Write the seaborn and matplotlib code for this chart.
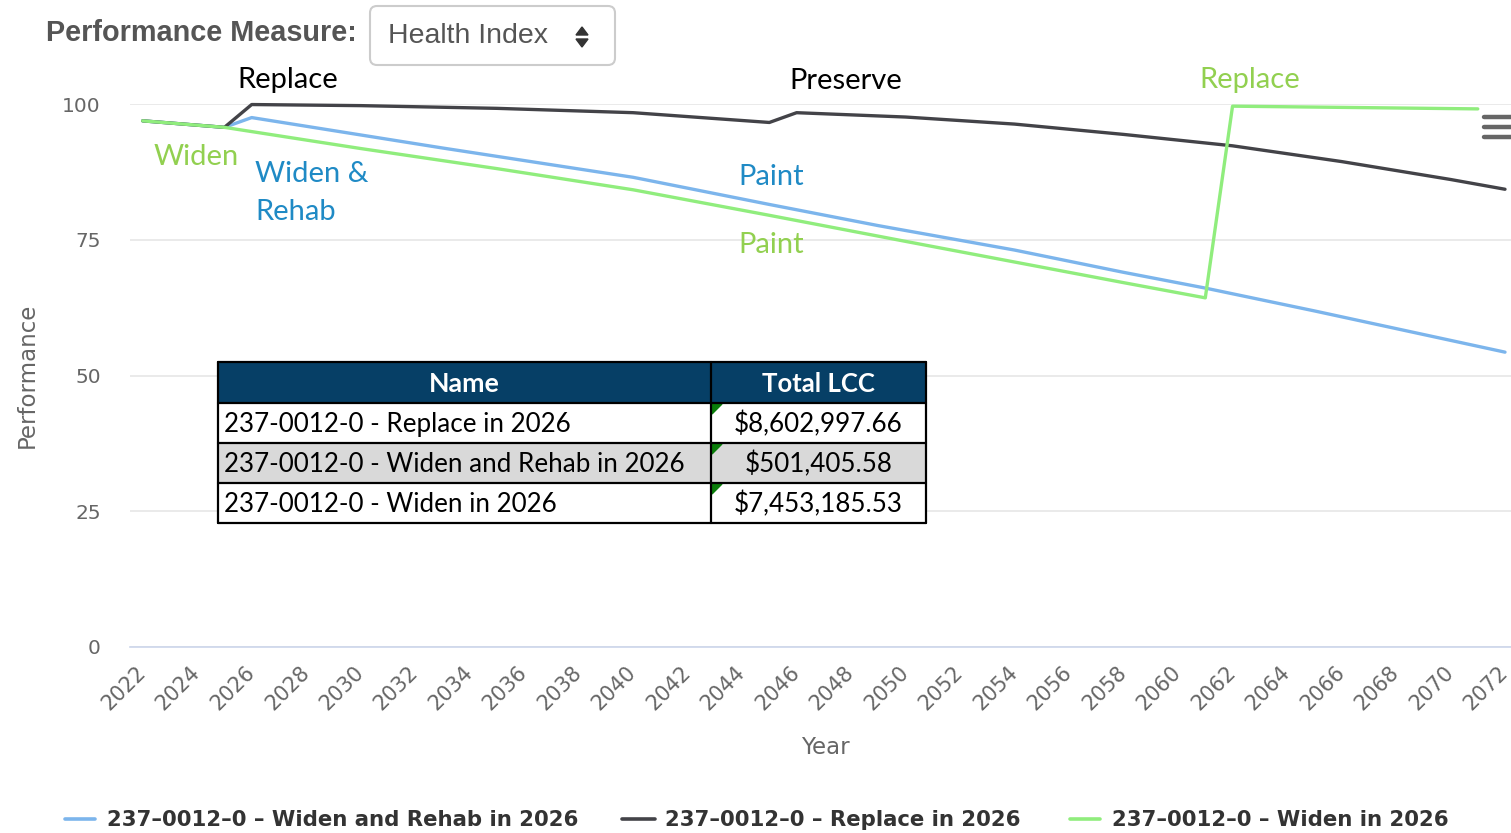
import matplotlib
matplotlib.use("Agg")
import matplotlib.pyplot as plt
import seaborn as sns
import pandas as pd
from matplotlib.patches import Rectangle, FancyBboxPatch, Polygon
from matplotlib.lines import Line2D

# ---------------- data ----------------
series_names = [
    "237-0012-0 - Widen and Rehab in 2026",
    "237-0012-0 - Replace in 2026",
    "237-0012-0 - Widen in 2026",
]
legend_labels = [
    "237–0012–0 – Widen and Rehab in 2026",
    "237–0012–0 – Replace in 2026",
    "237–0012–0 – Widen in 2026",
]
series_colors = ["#7cb5ec", "#434348", "#90ed7d"]

years_rehab = [2022, 2025, 2026, 2033, 2040, 2045, 2049, 2054, 2058, 2061, 2065, 2072]
vals_rehab = [96.9, 95.7, 97.5, 91.9, 86.5, 81.5, 77.6, 73.1, 69.0, 66.1, 61.9, 54.3]

years_replace = [2022, 2025, 2026, 2030, 2035, 2040, 2045, 2046, 2050, 2054, 2058, 2062, 2066, 2070, 2072]
vals_replace = [96.9, 95.7, 99.9, 99.7, 99.2, 98.4, 96.6, 98.4, 97.6, 96.3, 94.4, 92.3, 89.4, 86.1, 84.3]

years_widen = [2022, 2025, 2030, 2035, 2040, 2045, 2050, 2054, 2058, 2061, 2062, 2071]
vals_widen = [96.9, 95.7, 91.8, 88.1, 84.2, 79.5, 74.7, 70.9, 67.1, 64.3, 99.6, 99.1]

x_ticks = list(range(2022, 2073, 2))
y_ticks = [0, 25, 50, 75, 100]

table_header = ["Name", "Total LCC"]
table_names = [
    "237-0012-0 - Replace in 2026",
    "237-0012-0 - Widen and Rehab in 2026",
    "237-0012-0 - Widen in 2026",
]
table_lcc = ["$8,602,997.66", "$501,405.58", "$7,453,185.53"]

# ---------------- figure ----------------
sns.set_style("white")
plt.rcParams["font.family"] = ["DejaVu Sans"]

W, H = 1511, 833
fig = plt.figure(figsize=(W / 100, H / 100), dpi=100)

# plot area in pixels
px_left, px_right, px_top, px_bottom = 130, 1511, 104, 647
ax = fig.add_axes([px_left / W, 1 - px_bottom / H, (px_right - px_left) / W, (px_bottom - px_top) / H])

frames = []
for name, yrs, vals in zip(series_names,
                           [years_rehab, years_replace, years_widen],
                           [vals_rehab, vals_replace, vals_widen]):
    frames.append(pd.DataFrame({"Year": yrs, "Performance": vals, "Series": name}))
df = pd.concat(frames, ignore_index=True)

sns.lineplot(data=df, x="Year", y="Performance", hue="Series", hue_order=series_names,
             palette=series_colors, estimator=None, sort=False, linewidth=2.4,
             legend=False, ax=ax)
for ln in ax.lines:
    ln.set_clip_on(False)

# x range: 2022 at px 142.7, 2072 at px 1505
ppy = (1505 - 142.7) / 50.0
ax.set_xlim(2022 - (142.7 - px_left) / ppy, 2072 + (px_right - 1505) / ppy)
ax.set_ylim(0, 100)

ax.set_xticks(x_ticks)
ax.set_yticks(y_ticks)
ax.yaxis.grid(True, color="#e6e6e6", linewidth=1.2)
ax.xaxis.grid(False)
ax.set_axisbelow(True)
for s in ["top", "right", "left"]:
    ax.spines[s].set_visible(False)
ax.spines["bottom"].set_color("#ccd6eb")
ax.spines["bottom"].set_linewidth(1.2)
ax.tick_params(axis="y", length=0, pad=21, labelsize=14.5, labelcolor="#666666")
ax.tick_params(axis="x", length=0, pad=16, labelsize=15, labelcolor="#666666")
for lab in ax.get_xticklabels():
    lab.set_rotation(45)
    lab.set_ha("right")
    lab.set_va("center")
    lab.set_rotation_mode("anchor")
ax.set_xlabel("")
ax.set_ylabel("")

# ---------------- overlay in pixel coordinates ----------------
ov = fig.add_axes([0, 0, 1, 1], zorder=10)
ov.set_xlim(0, W)
ov.set_ylim(H, 0)
ov.axis("off")
ov.patch.set_alpha(0)

# axis titles
ov.text(825, 747, "Year", ha="center", va="center", fontsize=16.5, color="#666666")
ov.text(27, 375, "Performance", ha="center", va="center", rotation=90, fontsize=16.5, color="#666666")

# header controls
ov.text(46, 33, "Performance Measure:", ha="left", va="center", fontsize=20.8,
        fontweight="bold", color="#555555", family=["Liberation Sans"])
ov.add_patch(FancyBboxPatch((370, 6), 245, 59, boxstyle="round,pad=0,rounding_size=7",
                            facecolor="white", edgecolor="#cccccc", linewidth=1.5))
ov.text(388, 36, "Health Index", ha="left", va="center", fontsize=20.5,
        color="#555555", family=["Liberation Sans"])
ov.add_patch(Polygon([(576, 35), (588, 35), (582, 27)], closed=True, color="#333333"))
ov.add_patch(Polygon([(576, 39), (588, 39), (582, 47)], closed=True, color="#333333"))

# hamburger menu
for yy in [117, 127, 137]:
    ov.add_line(Line2D([1484, 1511], [yy, yy], color="#666666", linewidth=3.2,
                       solid_capstyle="round"))

# annotations
ann_font = ["Lato"]
ann_size = 21
green_txt = "#92d050"
blue_txt = "#1f8ac5"
ov.text(288, 80, "Replace", ha="center", va="center", fontsize=ann_size, color="black", family=ann_font)
ov.text(846, 81, "Preserve", ha="center", va="center", fontsize=ann_size, color="black", family=ann_font)
ov.text(1250, 80, "Replace", ha="center", va="center", fontsize=ann_size, color=green_txt, family=ann_font)
ov.text(196, 157, "Widen", ha="center", va="center", fontsize=ann_size, color=green_txt, family=ann_font)
ov.text(255, 174, "Widen &", ha="left", va="center", fontsize=ann_size, color=blue_txt, family=ann_font)
ov.text(255, 212, "Rehab", ha="left", va="center", fontsize=ann_size, color=blue_txt, family=ann_font)
ov.text(771, 177, "Paint", ha="center", va="center", fontsize=ann_size, color=blue_txt, family=ann_font)
ov.text(771, 245, "Paint", ha="center", va="center", fontsize=ann_size, color=green_txt, family=ann_font)

# table
tx0, tx1, tx2 = 218, 711, 926
row_y = [362, 403, 443, 483, 523]
fills = ["#063f66", "white", "#d9d9d9", "white"]
for i in range(4):
    ov.add_patch(Rectangle((tx0, row_y[i]), tx2 - tx0, row_y[i + 1] - row_y[i],
                           facecolor=fills[i], edgecolor="none"))
for yy in row_y:
    ov.add_line(Line2D([tx0, tx2], [yy, yy], color="black", linewidth=1.6))
for xx in [tx0, tx1, tx2]:
    ov.add_line(Line2D([xx, xx], [row_y[0], row_y[-1]], color="black", linewidth=1.6))
tab_font = ["Lato"]
tab_size = 18.7
ov.text((tx0 + tx1) / 2, (row_y[0] + row_y[1]) / 2 + 1, table_header[0], ha="center", va="center",
        fontsize=19.3, fontweight="bold", color="white", family=tab_font)
ov.text((tx1 + tx2) / 2, (row_y[0] + row_y[1]) / 2 + 1, table_header[1], ha="center", va="center",
        fontsize=18.5, fontweight="bold", color="white", family=tab_font)
for i, (nm, lc) in enumerate(zip(table_names, table_lcc)):
    yc = (row_y[i + 1] + row_y[i + 2]) / 2 + 1
    ov.text(tx0 + 6, yc, nm, ha="left", va="center", fontsize=tab_size, color="black", family=tab_font)
    ov.text((tx1 + tx2) / 2, yc, lc, ha="center", va="center", fontsize=tab_size, color="black", family=tab_font)
    ty = row_y[i + 1]
    ov.add_patch(Polygon([(tx1 + 1, ty + 1), (tx1 + 11, ty + 1), (tx1 + 1, ty + 11)],
                         closed=True, color="#0a7d0a"))

# legend
leg_items = [(65, 95, 107), (622, 655, 665), (1070, 1100, 1112)]
for (l0, l1, tx), lab, col in zip(leg_items, legend_labels, series_colors):
    ov.add_line(Line2D([l0, l1], [819, 819], color=col, linewidth=2.6))
    ov.text(tx, 820, lab, ha="left", va="center", fontsize=15.3, fontweight="bold", color="#333333")

fig.savefig("out.png", dpi=100)
